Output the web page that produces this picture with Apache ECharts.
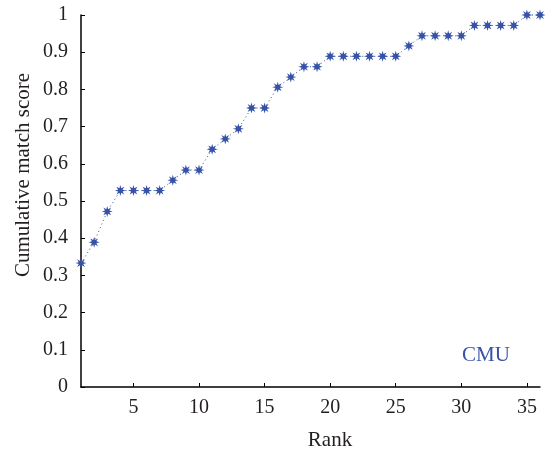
<!DOCTYPE html>
<html><head><meta charset="utf-8">
<script src="https://cdn.jsdelivr.net/npm/echarts@6/dist/echarts.min.js"></script>
<style>html,body{margin:0;padding:0;background:#fff}#c{width:546px;height:458px}</style>
</head><body><div id="c"></div>
<script>
const ranks = [1,2,3,4,5,6,7,8,9,10,11,12,13,14,15,16,17,18,19,20,21,22,23,24,25,26,27,28,29,30,31,32,33,34,35,36];
const scores = [0.333,0.389,0.472,0.528,0.528,0.528,0.528,0.556,0.583,0.583,0.639,0.667,0.694,0.75,0.75,0.806,0.833,0.861,0.861,0.889,0.889,0.889,0.889,0.889,0.889,0.917,0.944,0.944,0.944,0.944,0.972,0.972,0.972,0.972,1,1];
const xTicks = [5,10,15,20,25,30,35];
const seriesName = 'CMU';

function starPath(){
  let p = '';
  const n = 8, R = 10, r = 4.4;
  for (let i = 0; i < n*2; i++) {
    const a = Math.PI * i / n - Math.PI/2;
    const rad = i % 2 === 0 ? R : r;
    p += (i === 0 ? 'M' : 'L') + (rad*Math.cos(a)).toFixed(2) + ' ' + (rad*Math.sin(a)).toFixed(2) + ' ';
  }
  return 'path://' + p + 'Z';
}
const font = 'Liberation Serif';
const blue = '#3552a6';
const ink = '#231f20';
const chart = echarts.init(document.getElementById('c'));
chart.setOption({
  animation: false,
  backgroundColor: '#fff',
  grid: {left: 81, right: 6, top: 15, bottom: 71, containLabel: false},
  xAxis: {
    type: 'value', min: 1, max: 36,
    splitLine: {show: false},
    axisLine: {lineStyle: {color: '#000', width: 1.5}},
    axisTick: {inside: true, length: 4, customValues: xTicks, lineStyle: {color: '#000', width: 1}},
    axisLabel: {customValues: xTicks, color: ink, fontFamily: font, fontSize: 20, margin: 11}
  },
  yAxis: {
    type: 'value', min: 0, max: 1, interval: 0.1,
    splitLine: {show: false},
    axisLine: {show: true, lineStyle: {color: '#000', width: 1.5}},
    axisTick: {show: true, inside: true, length: 4, lineStyle: {color: '#000', width: 1}},
    axisLabel: {color: ink, fontFamily: font, fontSize: 20, margin: 13,
      formatter: v => String(Math.round(v*10)/10)}
  },
  graphic: [
    {type: 'text', x: 330, y: 440, style: {text: 'Rank', font: '21px "Liberation Serif"', fill: ink, align: 'center', verticalAlign: 'middle'}},
    {type: 'text', x: 23, y: 175, rotation: Math.PI/2, style: {text: 'Cumulative match score', font: '21px "Liberation Serif"', fill: ink, align: 'center', verticalAlign: 'middle'}},
    {type: 'text', x: 486, y: 355, style: {text: seriesName, font: '21px "Liberation Serif"', fill: blue, align: 'center', verticalAlign: 'middle'}}
  ],
  series: [{
    name: seriesName,
    type: 'line',
    data: ranks.map((r, i) => [r, scores[i]]),
    symbol: starPath(),
    symbolSize: 11,
    itemStyle: {color: blue},
    lineStyle: {color: blue, width: 1, type: [1, 3]},
    clip: false
  }]
});
</script></body></html>
